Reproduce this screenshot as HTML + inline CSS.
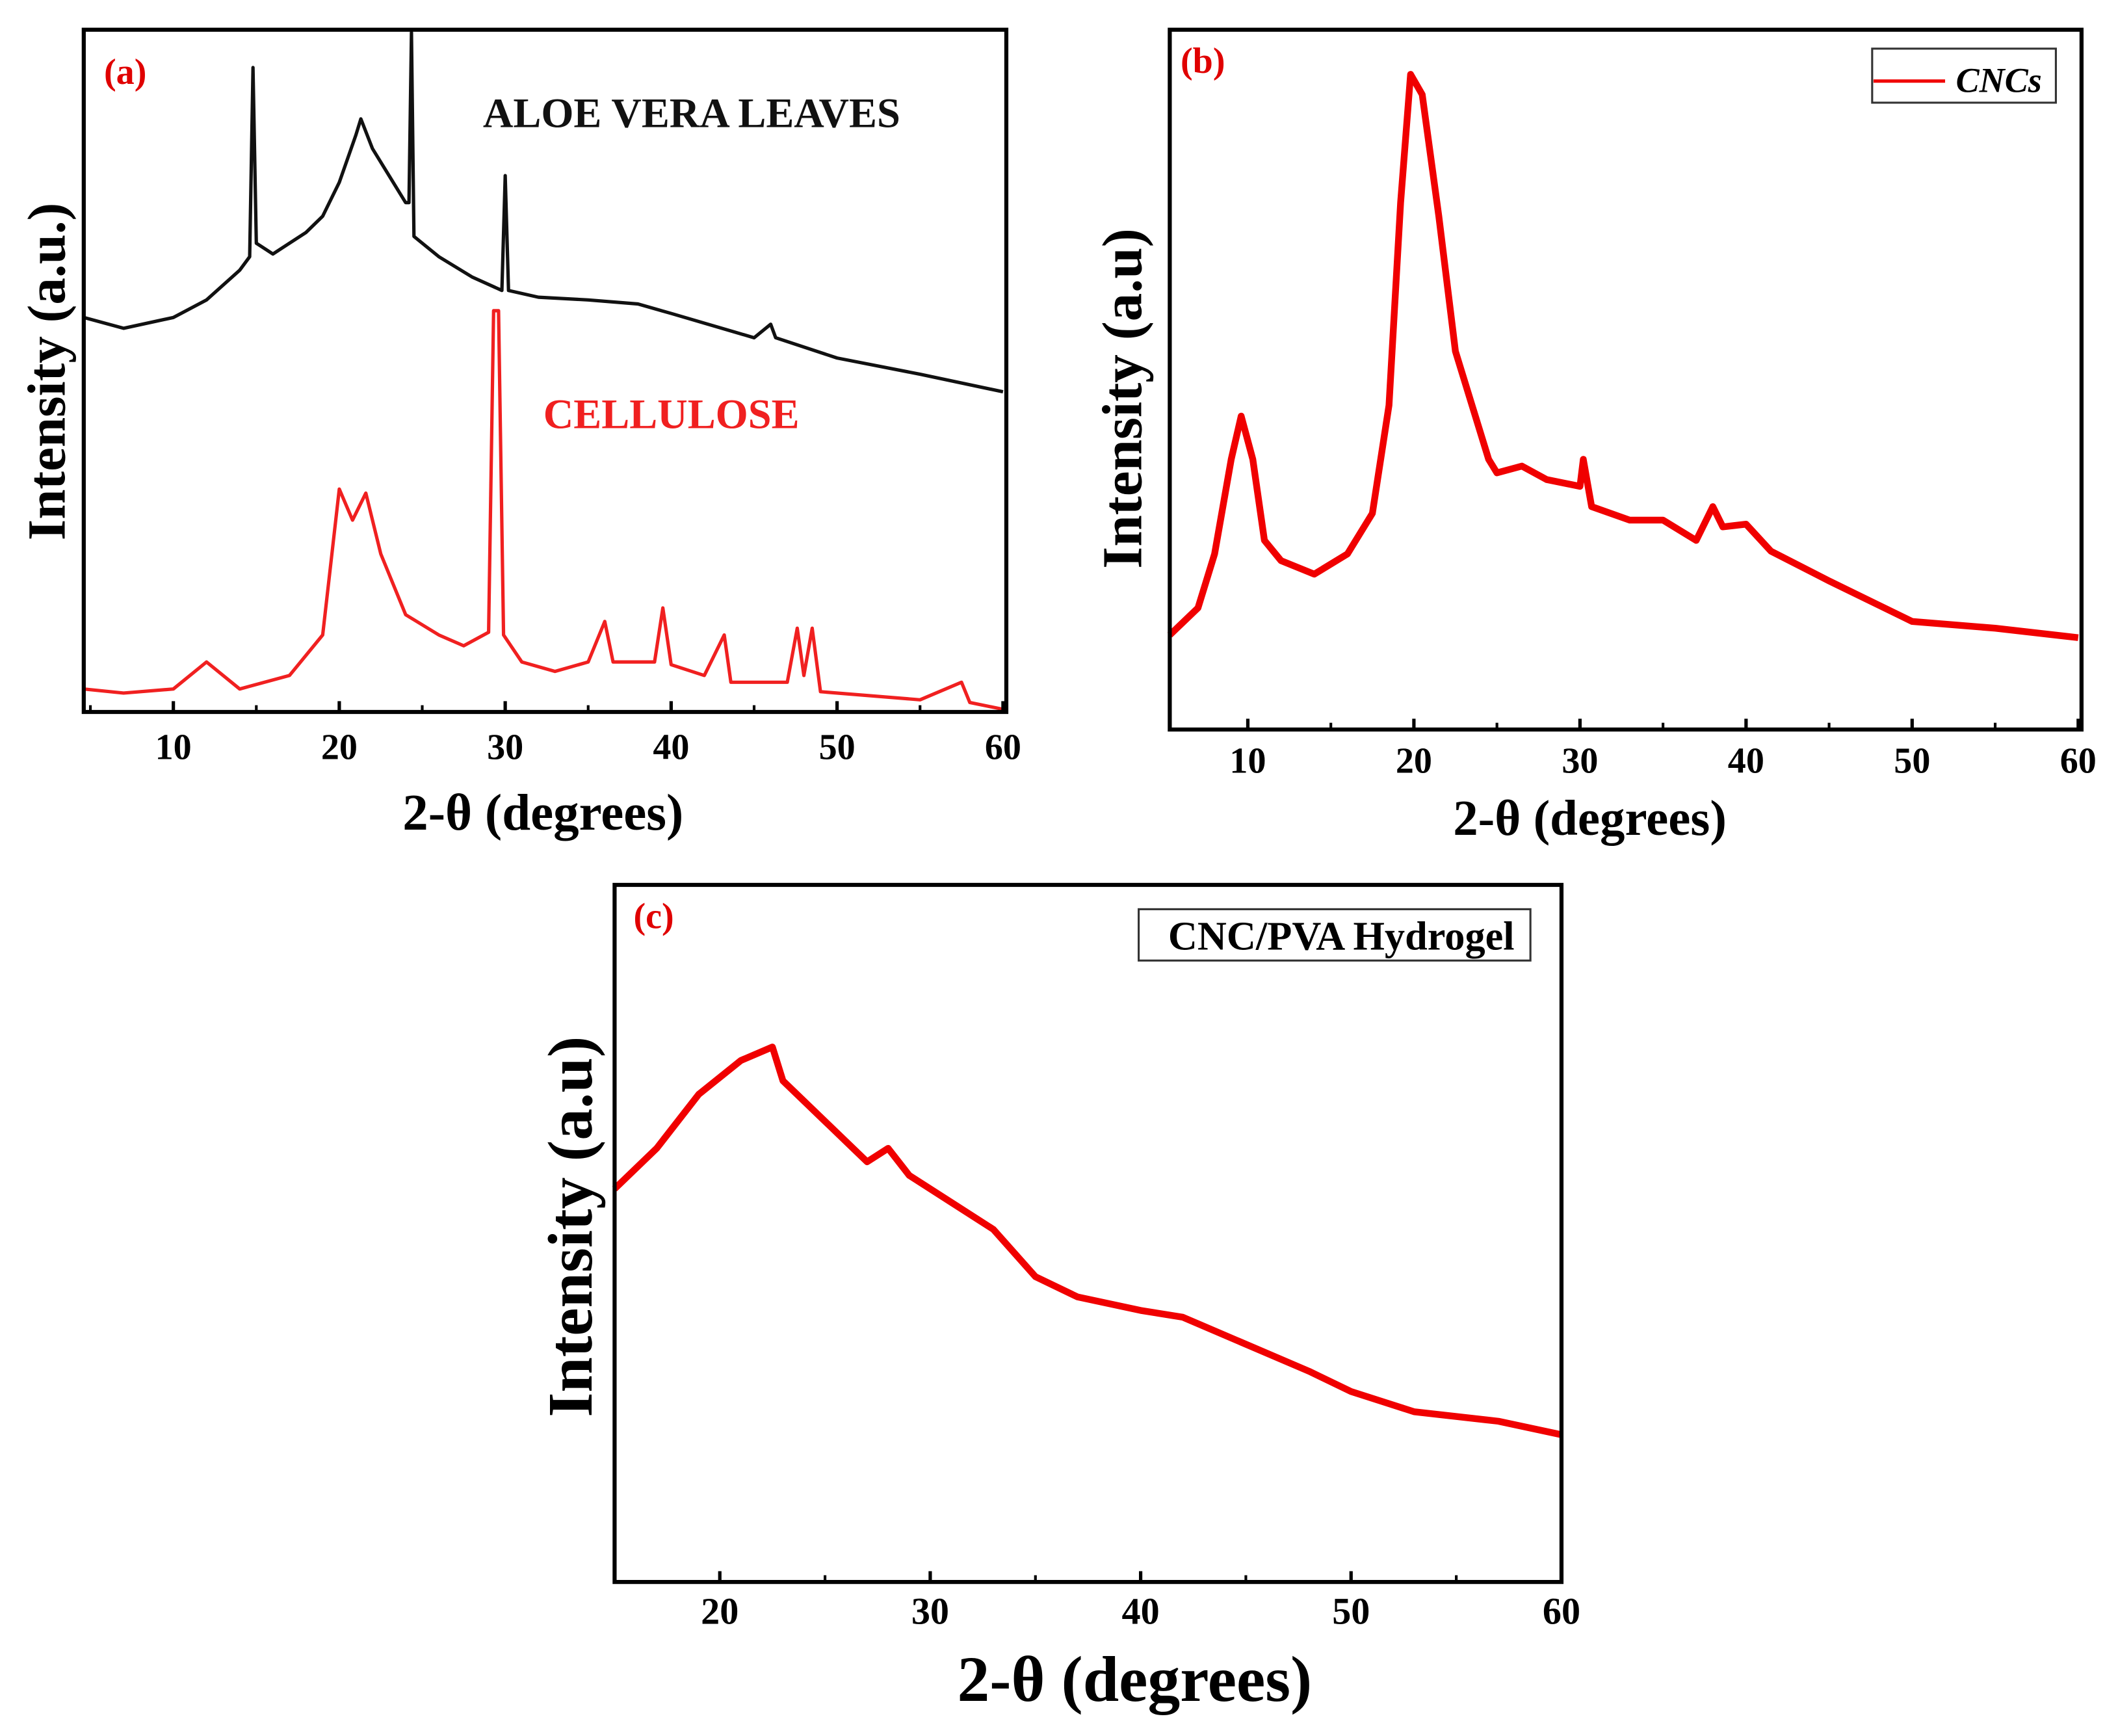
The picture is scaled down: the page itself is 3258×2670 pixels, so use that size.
<!DOCTYPE html>
<html><head><meta charset="utf-8"><style>
html,body{margin:0;padding:0;background:#fff;}
svg{display:block;}
text{font-family:"Liberation Serif",serif;font-weight:bold;}
</style></head><body>
<svg id="fig" width="3258" height="2670" viewBox="0 0 1568 1285" xmlns="http://www.w3.org/2000/svg">
<rect width="1568" height="1285" fill="#fff"/>
</svg>
<script>
// Panel (a) data: 2-theta and intensity (a.u.)
const aloeX = [4.6,7,10,12,14,14.6,14.8,15,16,18,19,20,21,21.3,22,23,24,24.2,24.35,24.5,26,28,29.8,30,30.2,32,35,38,40,45,46,46.3,50,55,60];
const aloeY = [292,284,292,305,327,337,477,347,339,355,367,392,427,439,417,397,377,377,503,352,337,322,312,397,312,307,305,302,295,277,287,277,262,250,237];
const celluX = [4.6,7,10,12,14,17,19,20,20.8,21.6,22.5,23,24,26,27.5,29,29.3,29.6,29.9,31,33,35,36,36.5,39,39.5,40,42,43.2,43.6,47,47.6,48,48.5,49,55,57.5,58,60];
const celluY = [17,14,17,37,17,27,57,165,142,162,117,102,72,57,49,59,297,297,57,37,30,37,67,37,37,77,35,27,57,22,22,62,27,62,15,9,22,7,2];
// Panel (b) data
const cncX = [5.3,7,8,9,9.6,10.3,11,12,14,16,17.5,18.5,19.2,19.8,20.5,21.5,22.5,23.5,24.5,25,26.5,28,30,30.2,30.7,33,35,37,38,38.6,40,41.5,45,48,50,55,60];
const cncY = [70,90,130,200,232,200,140,125,115,130,160,240,390,485,470,380,280,240,200,190,195,185,180,200,165,155,155,140,165,150,152,132,110,92,80,75,68];
// Panel (c) data
const gelX = [15,17,19,21,22.5,23,25,27,28,29,31,33,35,37,40,42,45,48,50,53,57,60];
const gelY = [291,321,361,386,396,371,341,311,321,301,281,261,226,211,201,196,176,156,141,126,119,109];
const tickA = [10,20,30,40,50,60];
const tickB = [10,20,30,40,50,60];
const tickC = [20,30,40,50,60];

const NS='http://www.w3.org/2000/svg';
const svg=document.getElementById('fig');
function mk(tag,attrs,parent){const e=document.createElementNS(NS,tag);for(const k in attrs)e.setAttribute(k,attrs[k]);(parent||svg).appendChild(e);return e;}
function txt(s,attrs,parent){const e=mk('text',attrs,parent);e.textContent=s;return e;}

function panel(p){
  const g=mk('g',{});
  
  
  const sx=v=>p.x0+(v-p.xmin)/(p.xmax-p.xmin)*(p.x1-p.x0);
  const sy=v=>p.y1-(v/p.ymax)*(p.y1-p.y0);
  p.series.forEach(s=>{
    let d='';
    s.x.forEach((xv,i)=>{d+=(i?'L':'M')+sx(xv).toFixed(2)+' '+sy(s.y[i]).toFixed(2);});
    const path=mk('path',{d:d,fill:'none',stroke:s.color,'stroke-width':s.w,'stroke-linejoin':'round'},g);
    
    
  });
  const frame=mk('rect',{x:p.x0,y:p.y0,width:p.x1-p.x0,height:p.y1-p.y0,fill:'none',stroke:'#000','stroke-width':3},g);
  
  
  p.ticks.forEach(t=>{
    const l=mk('line',{x1:sx(t),x2:sx(t),y1:p.y1,y2:p.y1-8,stroke:'#000','stroke-width':2.5},g);
    
    
    const lab=txt(String(t),{x:sx(t),y:p.y1+p.tickDy,'text-anchor':'middle','font-size':p.tickFs},g);
    
    
    const m=t-5;
    if(m>p.xmin){const ml=mk('line',{x1:sx(m),x2:sx(m),y1:p.y1,y2:p.y1-5,stroke:'#000','stroke-width':2},g);
      
      }
  });
  const xt=txt('2-θ (degrees)',{x:p.xtx,y:p.xty,'text-anchor':'middle','font-size':p.titleFs},g);
  
  
  const yt=txt(p.ylabel,{x:0,y:0,'text-anchor':'middle','font-size':p.ytitleFs,transform:`translate(${p.ytx},${p.yty}) rotate(-90)`},g);
  
  
  const pl=txt(p.label,{x:p.lx,y:p.ly,'font-size':p.labelFs,fill:'#e00000'},g);
  
  
  return g;
}

const ga=panel({name:'panel-a',x0:62,x1:745,y0:22,y1:527,xmin:4.6,xmax:60.2,ymax:505,ticks:tickA,tickDy:35,tickFs:27,
  xtx:402,xty:614,titleFs:38,ylabel:'Intensity (a.u.)',ytx:48,yty:275,ytitleFs:40,label:'(a)',lx:77,ly:62,labelFs:27,
  series:[{name:'aloe-vera-curve',x:aloeX,y:aloeY,color:'#111',w:2.5},{name:'cellulose-curve',x:celluX,y:celluY,color:'#f02020',w:2.5}]});
const a1=txt('ALOE VERA LEAVES',{x:512,y:94,'text-anchor':'middle','font-size':31,fill:'#111'},ga);


const a2=txt('CELLULOSE',{x:497,y:317,'text-anchor':'middle','font-size':31,fill:'#f02020'},ga);



const gb=panel({name:'panel-b',x0:866,x1:1541,y0:22,y1:540,xmin:5.3,xmax:60.2,ymax:518,ticks:tickB,tickDy:32,tickFs:27,
  xtx:1177,xty:618,titleFs:37,ylabel:'Intensity (a.u)',ytx:845,yty:295,ytitleFs:42,label:'(b)',lx:874,ly:54,labelFs:27,
  series:[{name:'cnc-curve',x:cncX,y:cncY,color:'#f00000',w:5}]});
const lb=mk('rect',{x:1386,y:36,width:136,height:40,fill:'#fff',stroke:'#333','stroke-width':1.5},gb);


const ll=mk('line',{x1:1387,x2:1440,y1:60,y2:60,stroke:'#f00000','stroke-width':2.5},gb);


const lt=txt('CNCs',{x:1448,y:68,'font-size':26,'font-style':'italic'},gb);



const gc=panel({name:'panel-c',x0:455,x1:1156,y0:655,y1:1171,xmin:15,xmax:60,ymax:516,ticks:tickC,tickDy:31,tickFs:28,
  xtx:840,xty:1259,titleFs:48,ylabel:'Intensity (a.u)',ytx:438,yty:908,ytitleFs:47,label:'(c)',lx:469,ly:687,labelFs:27,
  series:[{name:'cnc-pva-curve',x:gelX,y:gelY,color:'#f00000',w:5}]});
const lc=mk('rect',{x:843,y:673,width:290,height:38,fill:'#fff',stroke:'#333','stroke-width':1.5},gc);


const lct=txt('CNC/PVA Hydrogel',{x:993,y:703,'text-anchor':'middle','font-size':30},gc);


</script>
</body></html>
